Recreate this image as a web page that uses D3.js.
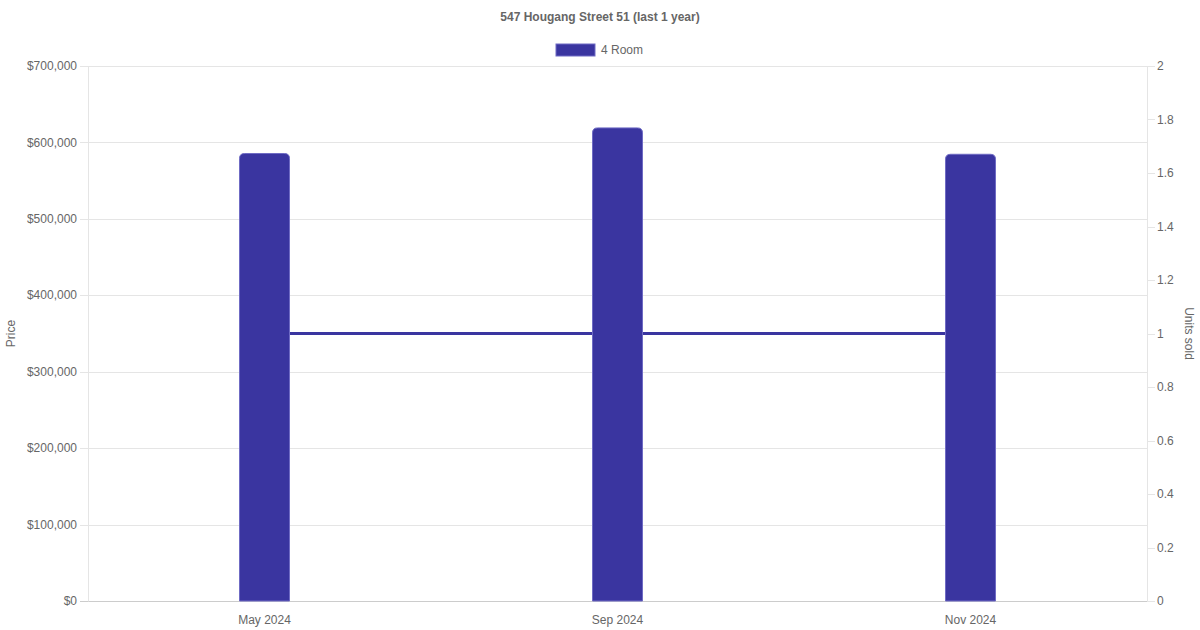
<!DOCTYPE html>
<html>
<head>
<meta charset="utf-8">
<script src="https://cdn.jsdelivr.net/npm/d3@7"></script>
<style>
  body { margin: 0; background: #fff; }
  svg { font-family: "Liberation Sans", Arial, Helvetica, sans-serif; }
</style>
</head>
<body>
<svg width="1200" height="630"></svg>
<script>
// chart data
var months = ["May 2024", "Sep 2024", "Nov 2024"];
var prices = [585500, 619000, 584500];
var unitsSold = [1, 1, 1];
var priceTicks = [0, 100000, 200000, 300000, 400000, 500000, 600000, 700000];
var unitTicks = [0, 0.2, 0.4, 0.6, 0.8, 1, 1.2, 1.4, 1.6, 1.8, 2];

var color = "#3a35a0";
var textColor = "#666";

// plot area (window.top is read-only, so no "top" here)
var plotLeft = 88, plotRight = 1147, plotTop = 66, plotBottom = 601;

var svg = d3.select("svg");

var x = d3.scaleBand().domain(months).range([plotLeft, plotRight]);
var yPrice = d3.scaleLinear().domain([0, 700000]).range([plotBottom, plotTop]);
var yUnits = d3.scaleLinear().domain([0, 2]).range([plotBottom, plotTop]);

// grid lines (from the price axis)
svg.append("g")
    .selectAll("line")
    .data(priceTicks)
    .enter()
    .append("line")
    .attr("x1", plotLeft - 8)
    .attr("x2", plotRight)
    .attr("y1", function(d) { return Math.round(yPrice(d)) + 0.5; })
    .attr("y2", function(d) { return Math.round(yPrice(d)) + 0.5; })
    .style("stroke", function(d) { return d == 0 ? "#ccc" : "#e5e5e5"; })
    .style("stroke-width", 1);

// vertical axis lines
svg.append("line")
    .attr("x1", plotLeft + 0.5).attr("x2", plotLeft + 0.5)
    .attr("y1", plotTop).attr("y2", plotBottom + 0.5)
    .style("stroke", "#e5e5e5");
svg.append("line")
    .attr("x1", plotRight + 0.5).attr("x2", plotRight + 0.5)
    .attr("y1", plotTop).attr("y2", plotBottom + 0.5)
    .style("stroke", "#e5e5e5");

// left tick labels
svg.append("g")
    .selectAll("text")
    .data(priceTicks)
    .enter()
    .append("text")
    .attr("x", plotLeft - 11)
    .attr("y", function(d) { return yPrice(d); })
    .attr("dy", "0.35em")
    .attr("text-anchor", "end")
    .style("font-size", "12px")
    .style("fill", textColor)
    .text(function(d) { return "$" + d3.format(",")(d); });

// right ticks
var rt = svg.append("g")
    .selectAll("g")
    .data(unitTicks)
    .enter()
    .append("g");
rt.append("line")
    .attr("x1", plotRight)
    .attr("x2", plotRight + 8)
    .attr("y1", function(d) { return Math.round(yUnits(d)) + 0.5; })
    .attr("y2", function(d) { return Math.round(yUnits(d)) + 0.5; })
    .style("stroke", "#e5e5e5");
rt.append("text")
    .attr("x", plotRight + 10)
    .attr("y", function(d) { return yUnits(d); })
    .attr("dy", "0.35em")
    .style("font-size", "12px")
    .style("fill", textColor)
    .text(function(d) { return d3.format("~g")(d); });

// x labels
svg.append("g")
    .selectAll("text")
    .data(months)
    .enter()
    .append("text")
    .attr("x", function(d) { return x(d) + x.bandwidth() / 2; })
    .attr("y", plotBottom + 23)
    .attr("text-anchor", "middle")
    .style("font-size", "12px")
    .style("fill", textColor)
    .text(function(d) { return d; });

// units line (behind bars)
var line = d3.line()
    .x(function(d, i) { return x(months[i]) + x.bandwidth() / 2; })
    .y(function(d) { return yUnits(d); });
svg.append("path")
    .datum(unitsSold)
    .attr("d", line)
    .style("fill", "none")
    .style("stroke", color)
    .style("stroke-width", 3);

// bars with rounded tops
var barW = 50, r = 5;
function barPath(d, i) {
    var cx = x(months[i]) + x.bandwidth() / 2;
    var x0 = cx - barW / 2, x1 = cx + barW / 2;
    var y0 = yPrice(d), y1 = plotBottom;
    return "M" + x0 + "," + y1 +
        "V" + (y0 + r) +
        "Q" + x0 + "," + y0 + " " + (x0 + r) + "," + y0 +
        "H" + (x1 - r) +
        "Q" + x1 + "," + y0 + " " + x1 + "," + (y0 + r) +
        "V" + y1 + "Z";
}
svg.append("g")
    .selectAll("path")
    .data(prices)
    .enter()
    .append("path")
    .attr("d", barPath)
    .style("fill", color)
    .style("stroke", "#6f6bc4")
    .style("stroke-width", 1);

// title
svg.append("text")
    .attr("x", 600)
    .attr("y", 21)
    .attr("text-anchor", "middle")
    .style("font-size", "12px")
    .style("font-weight", "bold")
    .style("fill", textColor)
    .text("547 Hougang Street 51 (last 1 year)");

// legend
svg.append("rect")
    .attr("x", 556).attr("y", 44)
    .attr("width", 39).attr("height", 12)
    .style("fill", color)
    .style("stroke", "#6f6bc4");
svg.append("text")
    .attr("x", 601)
    .attr("y", 54)
    .style("font-size", "12px")
    .style("fill", textColor)
    .text("4 Room");

// axis titles
svg.append("text")
    .attr("transform", "translate(15," + ((plotTop + plotBottom) / 2) + ") rotate(-90)")
    .attr("text-anchor", "middle")
    .style("font-size", "12px")
    .style("fill", textColor)
    .text("Price");
svg.append("text")
    .attr("transform", "translate(1185," + ((plotTop + plotBottom) / 2) + ") rotate(90)")
    .attr("text-anchor", "middle")
    .style("font-size", "12px")
    .style("fill", textColor)
    .text("Units sold");
</script>
</body>
</html>
